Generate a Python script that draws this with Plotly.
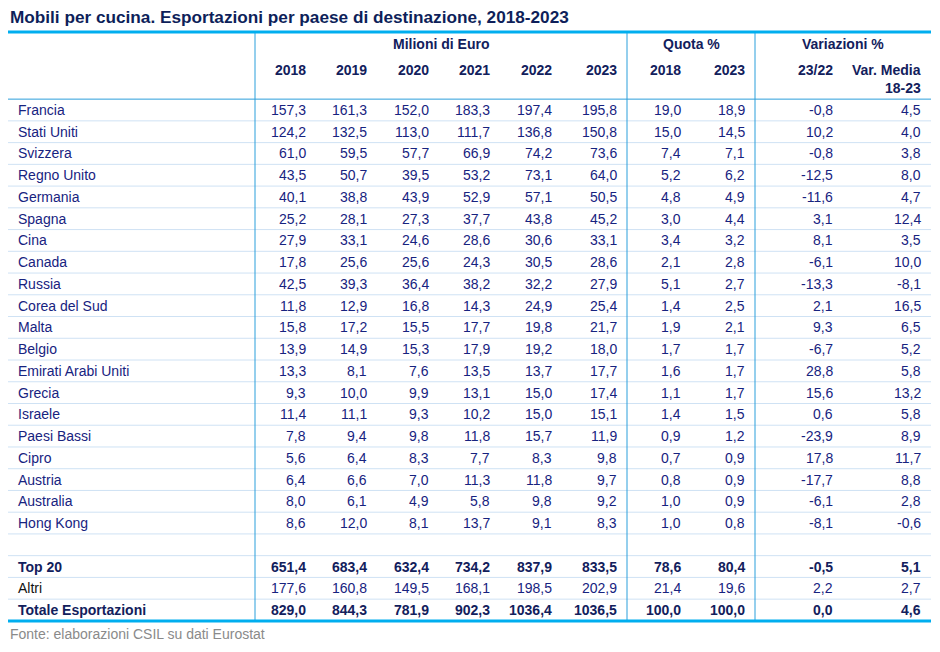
import plotly.graph_objects as go

# dati (milioni di euro, quote e variazioni %)
paesi = [
    "Francia", "Stati Uniti", "Svizzera", "Regno Unito", "Germania", "Spagna",
    "Cina", "Canada", "Russia", "Corea del Sud", "Malta", "Belgio",
    "Emirati Arabi Uniti", "Grecia", "Israele", "Paesi Bassi", "Cipro",
    "Austria", "Australia", "Hong Kong",
]
anni = ["2018", "2019", "2020", "2021", "2022", "2023"]

v2018 = [157.3, 124.2, 61.0, 43.5, 40.1, 25.2, 27.9, 17.8, 42.5, 11.8, 15.8, 13.9, 13.3, 9.3, 11.4, 7.8, 5.6, 6.4, 8.0, 8.6]
v2019 = [161.3, 132.5, 59.5, 50.7, 38.8, 28.1, 33.1, 25.6, 39.3, 12.9, 17.2, 14.9, 8.1, 10.0, 11.1, 9.4, 6.4, 6.6, 6.1, 12.0]
v2020 = [152.0, 113.0, 57.7, 39.5, 43.9, 27.3, 24.6, 25.6, 36.4, 16.8, 15.5, 15.3, 7.6, 9.9, 9.3, 9.8, 8.3, 7.0, 4.9, 8.1]
v2021 = [183.3, 111.7, 66.9, 53.2, 52.9, 37.7, 28.6, 24.3, 38.2, 14.3, 17.7, 17.9, 13.5, 13.1, 10.2, 11.8, 7.7, 11.3, 5.8, 13.7]
v2022 = [197.4, 136.8, 74.2, 73.1, 57.1, 43.8, 30.6, 30.5, 32.2, 24.9, 19.8, 19.2, 13.7, 15.0, 15.0, 15.7, 8.3, 11.8, 9.8, 9.1]
v2023 = [195.8, 150.8, 73.6, 64.0, 50.5, 45.2, 33.1, 28.6, 27.9, 25.4, 21.7, 18.0, 17.7, 17.4, 15.1, 11.9, 9.8, 9.7, 9.2, 8.3]
quota2018 = [19.0, 15.0, 7.4, 5.2, 4.8, 3.0, 3.4, 2.1, 5.1, 1.4, 1.9, 1.7, 1.6, 1.1, 1.4, 0.9, 0.7, 0.8, 1.0, 1.0]
quota2023 = [18.9, 14.5, 7.1, 6.2, 4.9, 4.4, 3.2, 2.8, 2.7, 2.5, 2.1, 1.7, 1.7, 1.7, 1.5, 1.2, 0.9, 0.9, 0.9, 0.8]
var2322 = [-0.8, 10.2, -0.8, -12.5, -11.6, 3.1, 8.1, -6.1, -13.3, 2.1, 9.3, -6.7, 28.8, 15.6, 0.6, -23.9, 17.8, -17.7, -6.1, -8.1]
varmedia = [4.5, 4.0, 3.8, 8.0, 4.7, 12.4, 3.5, 10.0, -8.1, 16.5, 6.5, 5.2, 5.8, 13.2, 5.8, 8.9, 11.7, 8.8, 2.8, -0.6]

# righe di totale
totali_label = ["Top 20", "Altri", "Totale Esportazioni"]
totali_valori = [
    [651.4, 683.4, 632.4, 734.2, 837.9, 833.5, 78.6, 80.4, -0.5, 5.1],
    [177.6, 160.8, 149.5, 168.1, 198.5, 202.9, 21.4, 19.6, 2.2, 2.7],
    [829.0, 844.3, 781.9, 902.3, 1036.4, 1036.5, 100.0, 100.0, 0.0, 4.6],
]

FONT = "Liberation Sans, Arial, sans-serif"
C_TITLE = "#0e1f5a"
C_HEAD = "#12205c"
C_BODY = "#17237f"
C_THICK = "#00aeef"
C_VLINE = "#2b9fdb"
C_SEP = "#cfe2f4"

# geometria (pixel)
W, H = 940, 652
X_LEFT, X_RIGHT = 8, 931
X_LABEL = 16
COL_RIGHT = [308, 369, 431, 492, 554, 619, 683, 747, 835, 923]
V_LINES = [255, 627, 755]
Y_TOP = 32
Y0, DY = 110, 21.74


def fmt(v):
    return f"{v:.1f}".replace(".", ",")


def row_y(i):
    return Y0 + DY * i


colonne = [v2018, v2019, v2020, v2021, v2022, v2023, quota2018, quota2023, var2322, varmedia]

fig = go.Figure()
fig.add_trace(go.Scatter(x=[0, W], y=[0, H], mode="markers", marker=dict(opacity=0), hoverinfo="skip", showlegend=False))

ann = []
shapes = []


def txt(x, y, s, anchor="right", size=14, bold=False, color=C_BODY):
    ann.append(dict(
        x=x, y=y, xref="x", yref="y", text=f"<b>{s}</b>" if bold else s,
        showarrow=False, xanchor=anchor, yanchor="middle",
        font=dict(family=FONT, size=size, color=color),
    ))


# titolo e fonte
txt(X_LEFT, 17, "Mobili per cucina. Esportazioni per paese di destinazione, 2018-2023", anchor="left", size=17.2, bold=True, color=C_TITLE)
txt(X_LEFT, 634, "Fonte: elaborazioni CSIL su dati Eurostat", anchor="left", size=14, color="#8a8a8a")

# intestazioni
txt((V_LINES[0] + V_LINES[1]) / 2, 44, "Milioni di Euro", anchor="center", bold=True, color=C_HEAD)
txt((V_LINES[1] + V_LINES[2]) / 2, 44, "Quota %", anchor="center", bold=True, color=C_HEAD)
txt((V_LINES[2] + X_RIGHT) / 2, 44, "Variazioni %", anchor="center", bold=True, color=C_HEAD)
for k, a in enumerate(anni + ["2018", "2023", "23/22", "Var. Media"]):
    txt(COL_RIGHT[k], 70, a, bold=True, color=C_HEAD)
txt(COL_RIGHT[-1], 88, "18-23", bold=True, color=C_HEAD)

# righe paesi
for i, p in enumerate(paesi):
    y = row_y(i)
    txt(X_LABEL, y, p, anchor="left")
    for k, col in enumerate(colonne):
        txt(COL_RIGHT[k], y, fmt(col[i]))

# righe totali (dopo una riga vuota)
for j, (lab, vals) in enumerate(zip(totali_label, totali_valori)):
    y = row_y(len(paesi) + 1 + j)
    bold = lab != "Altri"
    txt(X_LABEL, y, lab, anchor="left", bold=bold, color=C_HEAD if bold else "#111111")
    for k, v in enumerate(vals):
        txt(COL_RIGHT[k], y, fmt(v), bold=bold, color=C_HEAD if bold else C_BODY)

n_rows = len(paesi) + 1 + len(totali_label)
y_bottom = row_y(n_rows - 1) + DY / 2

# separatori orizzontali
for i in range(n_rows - 1):
    y = row_y(i) + DY / 2
    shapes.append(dict(type="line", xref="x", yref="y", x0=X_LEFT, x1=X_RIGHT, y0=y, y1=y, line=dict(color=C_SEP, width=1)))
shapes.append(dict(type="line", xref="x", yref="y", x0=X_LEFT, x1=X_RIGHT, y0=Y0 - DY / 2, y1=Y0 - DY / 2, line=dict(color=C_VLINE, width=1)))

# linee verticali
for xv in V_LINES:
    shapes.append(dict(type="line", xref="x", yref="y", x0=xv, x1=xv, y0=Y_TOP, y1=y_bottom, line=dict(color=C_VLINE, width=1)))

# bordi spessi
for yv in [Y_TOP, y_bottom]:
    shapes.append(dict(type="line", xref="x", yref="y", x0=X_LEFT, x1=X_RIGHT, y0=yv, y1=yv, line=dict(color=C_THICK, width=3)))

fig.update_layout(
    width=W, height=H,
    margin=dict(l=0, r=0, t=0, b=0),
    paper_bgcolor="white", plot_bgcolor="white",
    xaxis=dict(range=[0, W], visible=False, fixedrange=True),
    yaxis=dict(range=[H, 0], visible=False, fixedrange=True),
    annotations=ann, shapes=shapes,
    showlegend=False,
)

# niente margine della pagina, così la tabella parte dall'angolo
fig.write_html("out.html", config={"displayModeBar": False},
               post_script="document.body.style.margin='0';document.body.style.overflow='hidden';")
